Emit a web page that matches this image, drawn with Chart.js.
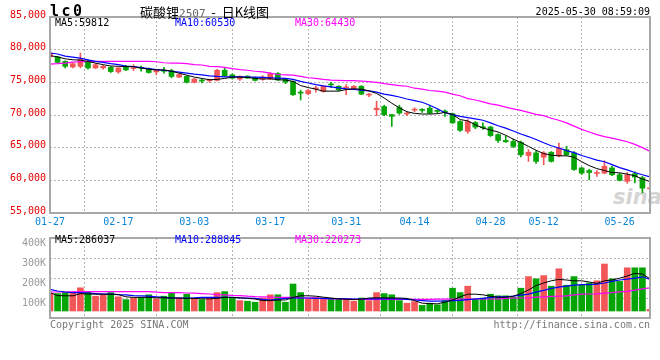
<!DOCTYPE html>
<html>
<head>
<meta charset="utf-8">
<script src="https://cdn.jsdelivr.net/npm/chart.js@4.4.1/dist/chart.umd.min.js"></script>
<style>
  body { margin: 0; background: #fff; }
  #wrap { position: relative; width: 660px; height: 360px; overflow: hidden;
          font-family: "DejaVu Sans Mono", monospace; font-size: 10px; }
  #wrap .t { position: absolute; white-space: pre; line-height: 1; }
  canvas { position: absolute; left: 0; }
</style>
</head>
<body>
<div id="wrap">
  <div class="t" style="left:613px;top:185px;font:italic bold 21px 'DejaVu Sans';color:#d4d4d4">sina</div>
  <canvas id="priceChart" width="660" height="232" style="top:0"></canvas>
  <canvas id="volChart" width="660" height="100" style="top:228px"></canvas>

  <div class="t" style="left:50px;top:4px;font-weight:bold;font-size:15px;letter-spacing:2.5px">lc0</div>
  <div class="t" style="left:140px;top:2px;font:13px 'Noto Sans CJK SC'">碳酸锂<span style="font:11px 'DejaVu Sans Mono';color:#666">2507</span>  -  日K线图</div>
  <div class="t" style="right:10px;top:7px">2025-05-30 08:59:09</div>

  <div class="t" style="left:55px;top:18px;color:#000">MA5:59812</div>
  <div class="t" style="left:175px;top:18px;color:#0000ff">MA10:60530</div>
  <div class="t" style="left:295px;top:18px;color:#ff00ff">MA30:64430</div>

  <div class="t" style="left:55px;top:235px;color:#000">MA5:286037</div>
  <div class="t" style="left:175px;top:235px;color:#0000ff">MA10:288845</div>
  <div class="t" style="left:295px;top:235px;color:#ff00ff">MA30:220273</div>

  <div class="t" style="left:50px;top:320px;color:#777">Copyright 2025 SINA.COM</div>
  <div class="t" style="right:10px;top:320px;color:#777">http://finance.sina.com.cn</div>
</div>

<script>
// trading days shown on the chart
const dates = [
  '01-27','02-05','02-06','02-07','02-10','02-11','02-12','02-13','02-14','02-17',
  '02-18','02-19','02-20','02-21','02-24','02-25','02-26','02-27','02-28','03-03',
  '03-04','03-05','03-06','03-07','03-10','03-11','03-12','03-13','03-14','03-17',
  '03-18','03-19','03-20','03-21','03-24','03-25','03-26','03-27','03-28','03-31',
  '04-01','04-02','04-03','04-07','04-08','04-09','04-10','04-11','04-14','04-15',
  '04-16','04-17','04-18','04-21','04-22','04-23','04-24','04-25','04-28','04-29',
  '04-30','05-06','05-07','05-08','05-09','05-12','05-13','05-14','05-15','05-16',
  '05-19','05-20','05-21','05-22','05-23','05-26','05-27','05-28','05-29','05-30'
];
const axisDates = ['01-27','02-17','03-03','03-17','03-31','04-14','04-28','05-12','05-26'];

const openP = [
  78900,78880,78200,77350,77450,78200,77200,77200,77300,76600,
  77450,77100,77250,77100,76600,76800,76800,75800,75900,75000,
  75300,75250,75300,76850,76150,75500,75950,75650,75500,75500,
  76350,75500,75150,73450,73250,74000,73600,74700,74400,74100,
  74050,74400,73050,70800,71300,70050,71150,70150,70750,70800,
  71050,70650,70600,70200,69000,67500,68850,68200,68150,67000,
  66100,65950,65800,63800,64200,63550,64300,63750,64700,64200,
  61900,61500,61050,61100,61900,60850,59850,61000,60400,58700
];
const highP = [
  80000,79000,78300,78000,79500,78400,77900,77600,77400,77300,
  77600,77700,77500,77200,77000,77300,77000,76300,76000,75600,
  75500,75500,77000,77300,76300,76000,76000,75800,76000,76500,
  76500,75600,75200,73800,73900,74400,74500,75000,74500,74650,
  74500,74500,73300,72100,71500,70100,71500,70400,71100,71000,
  71400,70800,70800,70300,69100,69300,69000,68800,68300,67100,
  66800,66300,66000,64700,64500,64400,64400,65700,65200,64400,
  62000,61700,61500,63000,62200,61100,61200,61300,60600,58700
];
const lowP = [
  78600,77950,77200,77200,77200,77000,77100,77000,76500,76400,
  76800,76800,76700,76400,76150,76400,75700,75700,74900,74900,
  74900,75000,75200,75900,75500,75300,75600,75200,75300,75400,
  75300,74800,73000,72300,73100,73500,73500,74200,73700,73100,
  73900,73100,72800,69900,69900,68250,70100,69900,70500,70400,
  70200,70300,69800,68700,67500,67200,67900,67800,66700,65800,
  65800,65000,63600,62900,62600,62400,62800,63600,63800,61500,
  60900,60100,60600,61000,60700,59900,59550,59600,58100,58700
];
const closeP = [
  79500,78050,77450,77850,78550,77200,77700,77450,76650,77200,
  76900,77200,77150,76500,76950,76700,75900,76200,75000,75500,
  75200,75300,76850,76000,75650,75900,75650,75300,75800,76350,
  75350,75050,73100,73350,73750,74100,74400,74600,73850,74300,
  74400,73200,73150,71050,70050,69800,70300,70250,70850,70700,
  70300,70550,70450,68800,67650,69000,68150,68050,66850,66100,
  65900,65200,63900,64300,62900,64200,62900,64950,63900,61650,
  61100,61200,61200,62150,60850,60000,60850,60500,58800,58700
];
const ma5P = [
  79080,78900,78600,78450,78400,78200,77950,77700,77500,77450,
  77400,77400,77200,77000,76900,76900,76700,76400,76100,75800,
  75600,75400,75450,75600,75800,75800,75750,75600,75500,75550,
  75400,75350,75150,74500,74200,73950,73650,73650,73650,73900,
  74000,73950,73700,73300,72600,71800,71100,70500,70250,70150,
  70150,70200,70400,70100,69300,69100,68500,68000,67700,67400,
  66900,66300,65800,65200,64600,64100,63850,63750,63750,63550,
  62850,62250,61800,61500,61200,61150,60950,60700,60200,59812
];
const ma10P = [
  79490,79340,79000,78850,78700,78450,78200,78050,77850,77700,
  77500,77400,77250,77100,76950,76850,76700,76550,76400,76250,
  76150,76000,75900,75850,75850,75850,75800,75800,75750,75700,
  75650,75600,75450,75150,74900,74650,74450,74300,74150,74000,
  73900,73800,73700,73500,73200,73000,72750,72450,72200,71950,
  71500,70950,70350,70050,69800,69600,69400,69200,68800,68350,
  68000,67550,67100,66700,66250,65750,65300,64950,64550,64250,
  63800,63450,63100,62850,62400,61950,61600,61200,60850,60530
];
const ma30P = [
  77800,77850,77950,78100,78150,78200,78200,78200,78200,78200,
  78200,78200,78200,78200,78150,78000,77950,77950,77850,77700,
  77650,77450,77400,77300,77100,76950,76850,76700,76600,76400,
  76200,76150,76100,75900,75700,75600,75450,75350,75300,75250,
  75250,75200,75100,75000,74800,74650,74500,74400,74100,73950,
  73750,73650,73500,73200,72950,72500,72300,72000,71700,71500,
  71200,70950,70700,70400,70100,69900,69500,69200,68800,68300,
  67800,67400,67000,66700,66450,66200,65900,65500,65000,64430
];

// volume, in thousands
const volK = [
  122,122,130,130,151,130,109,116,127,106,
  92,100,100,116,95,109,127,100,119,100,
  92,100,127,132,98,87,84,79,100,116,
  116,79,170,127,95,103,100,98,95,92,
  84,100,87,127,122,116,87,74,82,63,
  74,66,87,149,127,159,95,100,119,111,
  111,103,149,207,196,212,159,246,164,207,
  164,175,186,270,196,183,251,251,251,43
];
const ma5VK = [
  127,112,111,111,122,120,119,119,119,117,
  106,103,103,103,101,101,100,100,98,98,
  96,96,98,103,103,101,98,95,87,87,
  90,90,103,111,111,109,104,100,96,94,
  92,94,100,101,101,100,100,98,87,74,
  72,71,79,90,106,119,119,116,109,103,
  104,109,122,140,162,175,186,193,190,186,
  186,180,173,186,190,199,210,223,220,196
];
const ma10VK = [
  143,135,130,127,127,125,122,119,119,117,
  116,112,111,109,106,103,101,100,100,101,
  103,103,103,103,103,101,100,98,93,90,
  93,98,100,100,100,98,98,97,97,96,
  95,95,96,96,96,96,96,93,90,87,
  84,84,85,87,88,92,95,98,103,106,
  106,109,114,119,129,138,148,154,159,164,
  167,167,169,175,183,190,194,199,206,193
];
const ma30VK = [
  130,130,130,131,132,132,132,132,132,132,
  132,132,132,132,129,127,127,127,125,124,
  122,120,117,116,113,112,109,107,106,104,
  103,103,103,101,100,99,97,96,95,94,
  93,93,93,93,93,93,93,93,93,93,
  93,94,94,94,94,95,95,95,95,96,
  98,100,100,101,104,106,108,109,111,116,
  119,120,121,124,127,131,133,139,146,151
];
const volBase = 35000;

const RED = '#f25757';
const GREEN = '#06a506';
const GRID = '#b4b4b4';

Chart.defaults.font.family = '"DejaVu Sans Mono", monospace';
Chart.defaults.font.size = 10;

const candleColors = closeP.map((c, i) => c >= openP[i] ? RED : GREEN);
const k = v => v.map(x => x * 1000);

// grey frame round the plot area
const frame = {
  id: 'frame',
  afterDraw(chart) {
    const a = chart.chartArea, c = chart.ctx;
    c.save();
    c.strokeStyle = '#a8a8a8';
    c.lineWidth = 2;
    c.strokeRect(a.left, a.top, a.right - a.left, a.bottom - a.top);
    c.restore();
  }
};

function keepAxisDates(scale) {
  scale.ticks = scale.ticks.filter(t => axisDates.includes(dates[t.value]));
}

function maLine(data, color, width) {
  return { type: 'line', data, borderColor: color, borderWidth: width,
           pointRadius: 0, tension: 0, fill: false, order: 0 };
}

new Chart(document.getElementById('priceChart'), {
  data: {
    labels: dates,
    datasets: [
      { type: 'bar', data: lowP.map((l, i) => [l, highP[i]]), backgroundColor: candleColors,
        barThickness: 1, grouped: false, order: 2 },
      { type: 'bar', data: openP.map((o, i) => [o, closeP[i]]), backgroundColor: candleColors,
        barThickness: 5, minBarLength: 1, grouped: false, order: 1 },
      maLine(ma5P, '#000000', 1),
      maLine(ma10P, '#0000ff', 1.2),
      maLine(ma30P, '#ff00ff', 1.2)
    ]
  },
  options: {
    responsive: false,
    animation: false,
    devicePixelRatio: 1,
    layout: { padding: { top: 17, right: 10, bottom: 0, left: 0 } },
    plugins: { legend: { display: false }, tooltip: { enabled: false } },
    scales: {
      x: {
        offset: false,
        afterBuildTicks: keepAxisDates,
        afterFit: s => { s.height = 19; },
        grid: { color: GRID, drawTicks: false },
        border: { display: false, dash: [2, 2] },
        ticks: { autoSkip: false, maxRotation: 0, color: '#0a84d6', padding: 3 }
      },
      y: {
        min: 55000, max: 85000,
        afterFit: s => { s.width = 50; },
        grid: { color: GRID, drawTicks: false },
        border: { display: false, dash: [2, 2] },
        ticks: { stepSize: 5000, color: '#e60000', padding: 4, labelOffset: -2 }
      }
    }
  },
  plugins: [frame]
});

new Chart(document.getElementById('volChart'), {
  data: {
    labels: dates,
    datasets: [
      { type: 'bar', data: k(volK), base: volBase, backgroundColor: candleColors,
        barThickness: 6, grouped: false, order: 1 },
      maLine(k(ma5VK), '#000000', 1),
      maLine(k(ma10VK), '#0000ff', 1.2),
      maLine(k(ma30VK), '#ff00ff', 1.2)
    ]
  },
  options: {
    responsive: false,
    animation: false,
    devicePixelRatio: 1,
    layout: { padding: { top: 7, right: 10, bottom: 10, left: 0 } },
    plugins: { legend: { display: false }, tooltip: { enabled: false } },
    scales: {
      x: {
        offset: false,
        afterBuildTicks: keepAxisDates,
        afterFit: s => { s.height = 0; },
        grid: { color: GRID, drawTicks: false },
        border: { display: false, dash: [2, 2] },
        ticks: { display: false, autoSkip: false }
      },
      y: {
        min: 0, max: 400000,
        afterFit: s => { s.width = 50; },
        grid: { color: GRID, drawTicks: false },
        border: { display: false, dash: [2, 2] },
        ticks: { stepSize: 100000, color: '#999999', padding: 4, labelOffset: 5,
                 callback: v => v === 0 ? '' : (v / 1000) + 'K' }
      }
    }
  },
  plugins: [frame]
});
</script>
</body>
</html>
